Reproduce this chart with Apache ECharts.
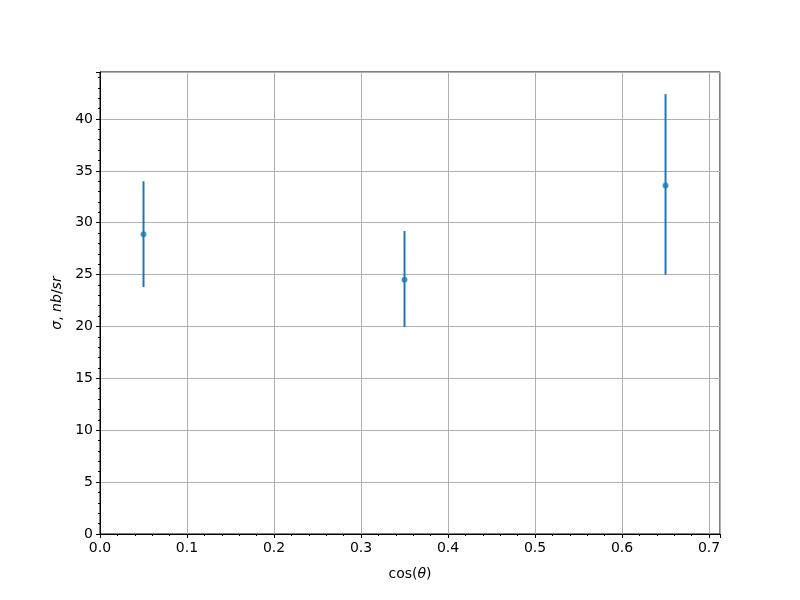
<!DOCTYPE html>
<html>
<head>
<meta charset="utf-8">
<script src="https://cdn.jsdelivr.net/npm/echarts@6/dist/echarts.min.js"></script>
<style>html,body{margin:0;padding:0;background:#fff}#c{width:800px;height:600px}</style>
</head>
<body>
<div id="c"></div>
<script>
const xValues = [0.05, 0.35, 0.65];
const yValues = [28.9, 24.5, 33.6];
const yLow = [23.8, 19.95, 25.0];
const yHigh = [34.0, 29.2, 42.4];

const color = '#1f77b4';
const chart = echarts.init(document.getElementById('c'));
const fontFamily = 'DejaVu Sans';
const fs = 14;
const points = xValues.map((x, i) => [x, yValues[i]]);
const bars = xValues.map((x, i) => [x, yLow[i], yHigh[i]]);

function fmtX(v) {
  const r = Math.round(v * 10);
  if (Math.abs(v * 10 - r) > 1e-6) return '';
  return (r / 10).toFixed(1);
}
function fmtY(v) {
  if (Math.abs(v / 5 - Math.round(v / 5)) > 1e-6) return '';
  return String(Math.round(v));
}
const rich = { n: { fontFamily, fontSize: fs, color: '#000' }, i: { fontFamily, fontSize: fs, fontStyle: 'italic', color: '#000' } };

chart.setOption({
  animation: false,
  backgroundColor: '#fff',
  grid: { left: 100, right: 80, top: 72, bottom: 66, show: true, borderColor: '#000', borderWidth: 1 },
  xAxis: {
    type: 'value', min: 0, max: 0.7126, interval: 0.1,
    name: '{n|cos(}{i|θ}{n|)}', nameLocation: 'middle', nameGap: 33,
    nameTextStyle: { rich },
    axisLine: { show: true, lineStyle: { color: '#000', width: 1 } },
    axisTick: { show: true, inside: false, length: 4, lineStyle: { color: '#000' } },
    minorTick: { show: true, splitNumber: 5, length: 2, lineStyle: { color: '#000' } },
    axisLabel: { formatter: fmtX, color: '#000', fontFamily, fontSize: fs, margin: 7, showMaxLabel: false },
    splitLine: { show: true, lineStyle: { color: '#b0b0b0', width: 1 } }
  },
  yAxis: {
    type: 'value', min: 0, max: 44.53, interval: 5,
    name: '{i|σ}{n|, }{i|nb}{n|/}{i|sr}', nameLocation: 'middle', nameGap: 36, nameRotate: 90,
    nameTextStyle: { rich },
    axisLine: { show: true, lineStyle: { color: '#000', width: 1 } },
    axisTick: { show: true, inside: false, length: 4, lineStyle: { color: '#000' } },
    minorTick: { show: true, splitNumber: 5, length: 2, lineStyle: { color: '#000' } },
    axisLabel: { formatter: fmtY, color: '#000', fontFamily, fontSize: fs, margin: 7, showMaxLabel: false },
    splitLine: { show: true, lineStyle: { color: '#b0b0b0', width: 1 } }
  },
  series: [
    {
      type: 'custom',
      data: bars,
      encode: { x: 0, y: [1, 2] },
      renderItem: function (params, api) {
        const x = api.value(0);
        const lo = api.coord([x, api.value(1)]);
        const hi = api.coord([x, api.value(2)]);
        return {
          type: 'line',
          shape: { x1: lo[0], y1: lo[1], x2: hi[0], y2: hi[1] },
          style: { stroke: color, lineWidth: 2 }
        };
      },
      z: 2
    },
    {
      type: 'scatter',
      data: points,
      symbol: 'circle',
      symbolSize: 6,
      itemStyle: { color: color },
      z: 3
    }
  ]
});
</script>
</body>
</html>
